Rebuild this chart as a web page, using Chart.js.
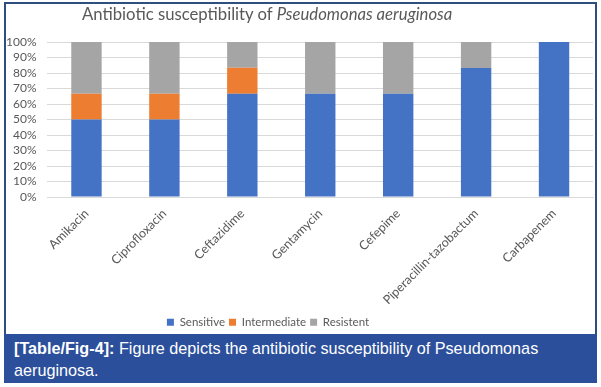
<!DOCTYPE html>
<html lang="en">
<head>
<meta charset="UTF-8">
<title>Antibiotic susceptibility</title>
<script src="https://cdn.jsdelivr.net/npm/chart.js@4.4.1/dist/chart.umd.min.js"></script>
<style>
    body { margin: 0; background: #fff; width: 601px; height: 387px; position: relative; overflow: hidden; }
    #frame { position: absolute; left: 4px; top: 2px; width: 589px; height: 334px; border: 2px solid #2e4f7e; border-bottom: none; pointer-events: none; }
    #wrap { position: absolute; left: 0; top: 0; width: 601px; height: 334px; }
    #title { position: absolute; left: 82px; top: 4px; white-space: nowrap; font-family: Lato, sans-serif; font-size: 16.7px; color: #595959; }
    #caption { position: absolute; left: 4px; top: 334px; width: 593px; height: 49px; background: #2b4f9b; color: #fff;
        font-family: "Liberation Sans", Arial, sans-serif; font-size: 16.2px; line-height: 22px; box-sizing: border-box; padding: 3px 10px; }
</style>
</head>
<body>
<div id="wrap"><canvas id="canvas"></canvas></div>
<div id="title">Antibiotic susceptibility of <i>Pseudomonas aeruginosa</i></div>
<div id="frame"></div>
<div id="caption"><b>[Table/Fig-4]:</b> Figure depicts the antibiotic susceptibility of Pseudomonas<br>aeruginosa.</div>

<script>
    // data (percent of isolates)
    const drugs = ['Amikacin', 'Ciprofloxacin', 'Ceftazidime', 'Gentamycin', 'Cefepime', 'Piperacillin-tazobactum', 'Carbapenem'];
    const sensitive = [50, 50, 66.7, 66.7, 66.7, 83.3, 100];
    const intermediate = [16.7, 16.7, 16.7, 0, 0, 0, 0];
    const resistent = [33.3, 33.3, 16.6, 33.3, 33.3, 16.7, 0];

    const grey = '#595959';

    // the original legend sits left of centre, under the title
    const legendShift = {
        id: 'legendShift',
        afterLayout(chart) {
            chart.legend.left -= 26;
            chart.legend.right -= 26;
            chart.legend.top += 4;
            chart.legend.bottom += 4;
        }
    };

    var ctx = document.getElementById('canvas').getContext('2d');
    var myChart = new Chart(ctx, {
        type: 'bar',
        data: {
            labels: drugs,
            datasets: [
                { label: 'Sensitive', data: sensitive, backgroundColor: '#4472c4' },
                { label: 'Intermediate', data: intermediate, backgroundColor: '#ed7d31' },
                { label: 'Resistent', data: resistent, backgroundColor: '#a5a5a5' }
            ]
        },
        options: {
            responsive: true,
            maintainAspectRatio: false,
            animation: false,
            datasets: { bar: { categoryPercentage: 1, barPercentage: 0.39 } },
            layout: { padding: { top: 42, left: -5, right: 8, bottom: 0 } },
            plugins: {
                tooltip: { enabled: false },
                legend: {
                    position: 'bottom',
                    labels: { boxWidth: 7, boxHeight: 7, padding: 4, color: grey, font: { family: 'Lato', size: 11.5 } }
                }
            },
            scales: {
                x: {
                    stacked: true,
                    grid: { display: false },
                    border: { color: '#d9d9d9' },
                    ticks: { color: grey, font: { family: 'Lato', size: 12.5 }, minRotation: 45, maxRotation: 45, padding: 1 }
                },
                y: {
                    stacked: true,
                    min: 0,
                    max: 100,
                    border: { display: false },
                    grid: { color: '#d9d9d9', drawTicks: false },
                    ticks: { stepSize: 10, autoSkip: false, color: grey, font: { family: 'Lato', size: 12 }, padding: 11, callback: v => v + '%' }
                }
            }
        },
        plugins: [legendShift]
    });
</script>
</body>
</html>
